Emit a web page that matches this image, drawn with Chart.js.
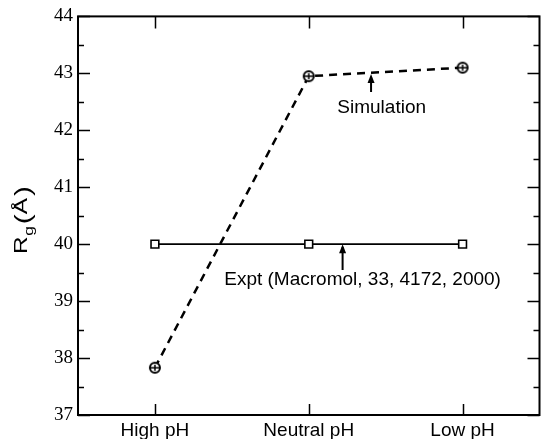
<!DOCTYPE html>
<html>
<head>
<meta charset="utf-8">
<script src="https://cdn.jsdelivr.net/npm/chart.js@4.4.1/dist/chart.umd.min.js"></script>
<style>
  html, body { margin: 0; padding: 0; background: #fff; overflow: hidden; }
  #wrap { width: 547px; height: 439px; }
</style>
</head>
<body>
<div id="wrap"><canvas id="rgChart" width="547" height="439"></canvas></div>
<script>
// Radius of gyration vs pH
const categories = ['High pH', 'Neutral pH', 'Low pH'];
const simulation = [37.83, 42.95, 43.1];
const expt = [40, 40, 40];
const yTicks = [37, 38, 39, 40, 41, 42, 43, 44];

function toPoints(values) {
    return values.map((v, i) => ({ x: i + 1, y: v }));
}

// circle with a bar through it (sim points)
function circleMarker() {
    const c = document.createElement('canvas');
    c.width = 14; c.height = 14;
    const g = c.getContext('2d');
    g.fillStyle = '#fff';
    g.strokeStyle = '#000';
    g.lineWidth = 2;
    g.beginPath();
    g.arc(7, 7, 5, 0, Math.PI * 2);
    g.fill();
    g.stroke();
    g.lineWidth = 1.5;
    g.beginPath();
    g.moveTo(2, 7); g.lineTo(12, 7);
    g.moveTo(7, 4); g.lineTo(7, 10);
    g.stroke();
    return c;
}

const SANS = '"Liberation Sans", Arial, sans-serif';

const axisPlugin = {
    id: 'axisFrame',
    afterDraw(chart) {
        const { ctx, chartArea: a, scales: { x, y } } = chart;
        ctx.save();
        ctx.strokeStyle = '#000';
        ctx.lineWidth = 2;
        ctx.strokeRect(a.left, a.top, a.right - a.left, a.bottom - a.top);

        ctx.lineWidth = 1.5;
        ctx.beginPath();
        // y ticks, both sides, pointing in
        for (let v = 37; v <= 44; v += 0.5) {
            const py = Math.round(y.getPixelForValue(v)) + 0.5;
            const len = Number.isInteger(v) ? 12 : 6;
            ctx.moveTo(a.left, py); ctx.lineTo(a.left + len, py);
            ctx.moveTo(a.right, py); ctx.lineTo(a.right - len, py);
        }
        // x ticks top and bottom
        categories.forEach((c, i) => {
            const px = Math.round(x.getPixelForValue(i + 1)) + 0.5;
            ctx.moveTo(px, a.bottom); ctx.lineTo(px, a.bottom - 11);
            ctx.moveTo(px, a.top); ctx.lineTo(px, a.top + 12);
        });
        ctx.stroke();

        // y axis title R_g(Å), stretched along its length like the original
        ctx.fillStyle = '#000';
        ctx.translate(27, 254);
        ctx.rotate(-Math.PI / 2);
        ctx.scale(1.35, 1);
        ctx.textBaseline = 'alphabetic';
        ctx.textAlign = 'left';
        ctx.font = '18px ' + SANS;
        ctx.fillText('R', 0, 0);
        ctx.font = '13px ' + SANS;
        ctx.fillText('g', 13.5, 6);
        ctx.font = '22px ' + SANS;
        ctx.fillText('(', 22, 3);
        ctx.font = '18px ' + SANS;
        ctx.fillText('Å', 29.5, 0);
        ctx.font = '22px ' + SANS;
        ctx.fillText(')', 43, 3);
        ctx.restore();

        // annotations
        ctx.save();
        ctx.fillStyle = '#000';
        ctx.strokeStyle = '#000';
        ctx.font = '19px ' + SANS;
        ctx.textAlign = 'center';
        ctx.textBaseline = 'middle';
        ctx.fillText('Simulation', x.getPixelForValue(2.474), 108);
        ctx.fillText('Expt (Macromol, 33, 4172, 2000)', x.getPixelForValue(2.35), 280);

        function arrow(px, tipY, tailY) {
            ctx.lineWidth = 2;
            ctx.beginPath();
            ctx.moveTo(px, tailY); ctx.lineTo(px, tipY + 3);
            ctx.stroke();
            ctx.beginPath();
            ctx.moveTo(px, tipY);
            ctx.lineTo(px - 3.5, tipY + 9);
            ctx.lineTo(px + 3.5, tipY + 9);
            ctx.closePath();
            ctx.fill();
        }
        arrow(x.getPixelForValue(2.405), y.getPixelForValue(42.99), 92);
        arrow(x.getPixelForValue(2.22), y.getPixelForValue(40), 270);
        ctx.restore();
    }
};

new Chart(document.getElementById('rgChart'), {
    type: 'line',
    data: {
        datasets: [
            {
                label: 'Simulation',
                data: toPoints(simulation),
                borderColor: '#000',
                borderWidth: 2.5,
                borderDash: [8, 6],
                pointStyle: circleMarker(),
                pointRadius: 5,
                tension: 0
            },
            {
                label: 'Expt',
                data: toPoints(expt),
                borderColor: '#000',
                borderWidth: 1.8,
                pointStyle: 'rect',
                pointRadius: 5.5,
                pointBorderWidth: 1.6,
                pointBackgroundColor: '#fff',
                pointBorderColor: '#000',
                tension: 0
            }
        ]
    },
    options: {
        responsive: false,
        animation: false,
        layout: { padding: { top: 16, right: 1, left: 0, bottom: 0 } },
        plugins: { legend: { display: false }, tooltip: { enabled: false } },
        scales: {
            x: {
                type: 'linear',
                min: 0.5,
                max: 3.5,
                grid: { display: false, drawTicks: false },
                border: { display: false },
                afterBuildTicks(scale) {
                    scale.ticks = categories.map((c, i) => ({ value: i + 1 }));
                },
                afterFit(scale) { scale.height = 24; },
                ticks: {
                    color: '#000',
                    padding: 4,
                    maxRotation: 0,
                    autoSkip: false,
                    font: { family: SANS, size: 19 },
                    callback: (v) => categories[v - 1] || ''
                }
            },
            y: {
                min: 37,
                max: 44,
                grid: { display: false, drawTicks: false },
                border: { display: false },
                afterBuildTicks(scale) {
                    scale.ticks = yTicks.map(v => ({ value: v }));
                },
                afterFit(scale) { scale.width = 78; },
                ticks: {
                    color: '#000',
                    padding: 5,
                    font: { family: '"Liberation Serif", "Times New Roman", serif', size: 19 }
                }
            }
        }
    },
    plugins: [axisPlugin]
});
</script>
</body>
</html>
